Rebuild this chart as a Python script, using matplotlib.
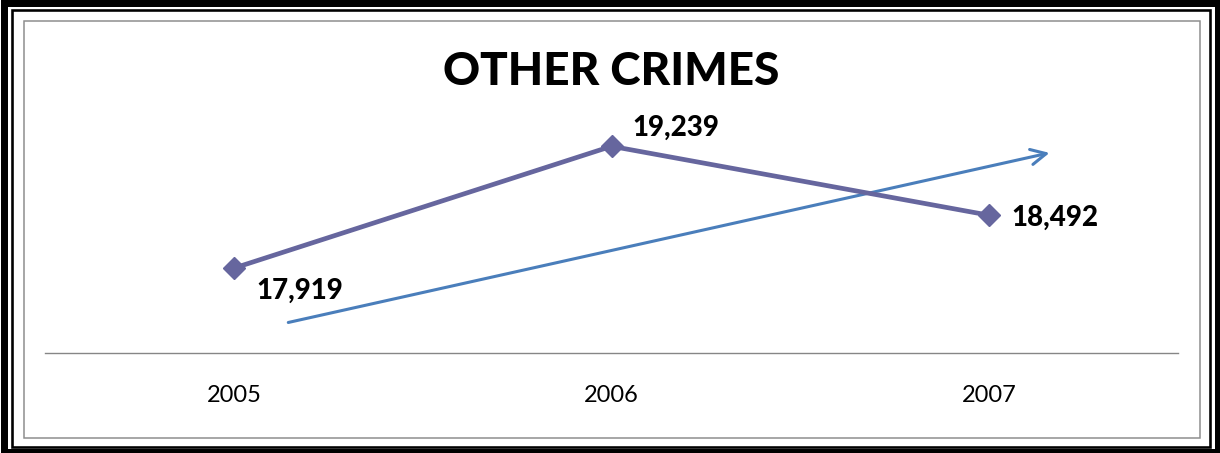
import matplotlib
matplotlib.use("Agg")
import matplotlib.pyplot as plt
from matplotlib.patches import Rectangle

# ---- data ----
years = ["2005", "2006", "2007"]
crimes = [17919, 19239, 18492]
value_labels = ["17,919", "19,239", "18,492"]
title = "OTHER CRIMES"
# decorative trend arrow (category index, value)
arrow_start = [0.137, 17324]
arrow_end = [2.167, 19174]

W, H = 1220, 453
DPI = 100
fig = plt.figure(figsize=(W / DPI, H / DPI), dpi=DPI)
fig.patch.set_facecolor("white")

def px_rect(x0, y0, x1, y1, lw_px, color):
    r = Rectangle((x0 / W, 1 - y1 / H), (x1 - x0) / W, (y1 - y0) / H,
                  transform=fig.transFigure, fill=False, edgecolor=color,
                  linewidth=lw_px * 72 / DPI, joinstyle="miter")
    fig.patches.append(r)

# frames
px_rect(4, 3, 1217.5, 451.5, 7, "black")
px_rect(12.5, 10, 1209.5, 446.5, 2.6, "black")
px_rect(23.5, 20.5, 1199.5, 437.5, 1.5, "#8c8c8c")

ax = fig.add_axes([45 / W, 1 - 353 / H, (1178 - 45) / W, (353 - 76) / H])
ax.set_xlim(-0.5, 2.5)
ax.set_ylim(17000, 20000)
xs = list(range(len(years)))
ax.plot(xs, crimes, color="#66669e", lw=3.4, marker="D", markersize=11,
        markerfacecolor="#66669e", markeredgecolor="#66669e", zorder=3)

ax.annotate("", xy=tuple(arrow_end), xytext=tuple(arrow_start),
            arrowprops=dict(arrowstyle="->,head_length=1.1,head_width=0.55",
                            color="#4a7ebb", lw=2.2), zorder=2)

offsets = [(66, -23), (64, 18), (66, -3)]
for x, v, lab, off in zip(xs, crimes, value_labels, offsets):
    ax.annotate(lab, (x, v), xytext=(off[0] * 0.72, off[1] * 0.72),
                textcoords="offset points", ha="center", va="center",
                fontsize=20, fontweight="black", family="Lato", color="black")

for s in ["top", "right", "left"]:
    ax.spines[s].set_visible(False)
ax.spines["bottom"].set_color("#868686")
ax.spines["bottom"].set_linewidth(1.0)
ax.set_yticks([])
ax.set_xticks(xs)
ax.set_xticklabels(years, family="Lato", fontsize=17)
ax.tick_params(axis="x", length=0, pad=23)
ax.set_facecolor("none")

fig.text(611 / W, 1 - 72 / H, title, ha="center", va="center",
         fontsize=33, fontweight="black", family="Lato")

fig.savefig("out.png", dpi=DPI, facecolor="white")
